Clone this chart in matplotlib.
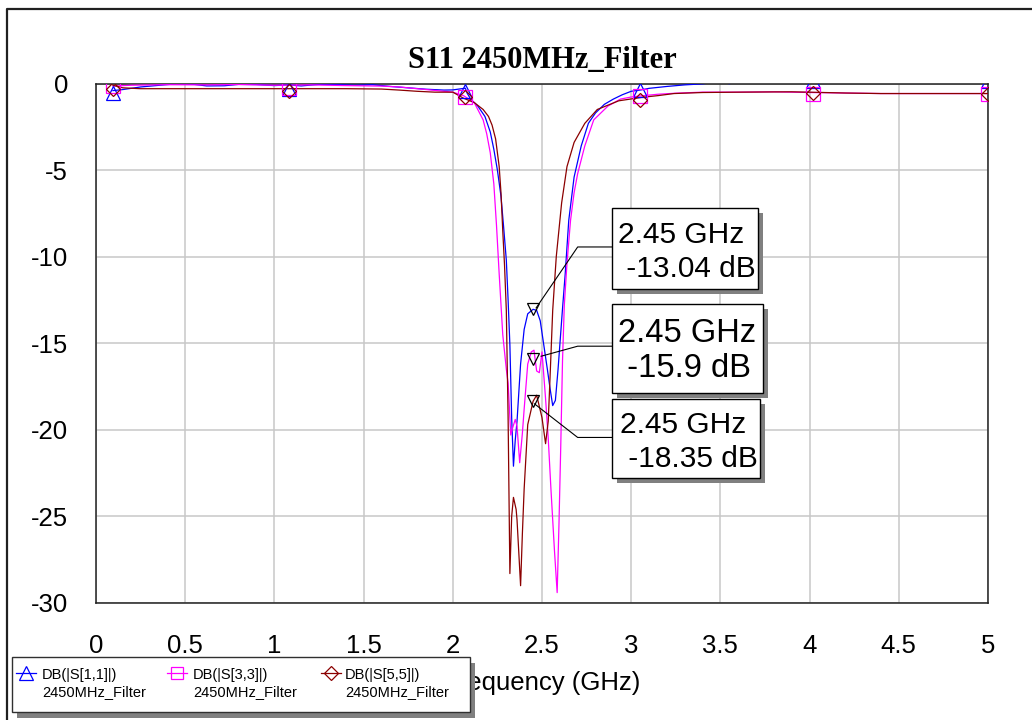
import matplotlib
matplotlib.use("Agg")
import matplotlib.pyplot as plt
from matplotlib.patches import Rectangle
from matplotlib.lines import Line2D
from matplotlib.transforms import Affine2D

# ---------------- data ----------------
s11_f = [0.095, 0.15, 0.25, 0.38, 0.45, 0.55, 0.62, 0.72, 0.80, 0.90, 1.00, 1.08, 1.15, 1.25,
         1.35, 1.45, 1.55, 1.65, 1.75, 1.85, 1.95, 2.00, 2.05, 2.07, 2.08, 2.10, 2.14, 2.18,
         2.21, 2.23, 2.25, 2.27, 2.285, 2.30, 2.31, 2.32, 2.33, 2.34, 2.35, 2.36, 2.38, 2.40,
         2.42, 2.45, 2.47, 2.49, 2.51, 2.53, 2.545, 2.56, 2.575, 2.59, 2.60, 2.615, 2.63,
         2.65, 2.68, 2.72, 2.76, 2.80, 2.85, 2.90, 2.95, 3.00, 3.05, 3.10, 3.20, 3.30, 3.40,
         3.45, 3.50, 3.55, 3.60, 4.00, 4.50, 5.00]
s11_db = [-0.41, -0.35, -0.20, -0.08, -0.02, -0.05, -0.14, -0.13, -0.05, -0.06, -0.12, -0.08,
          -0.14, -0.05, -0.06, -0.10, -0.07, -0.17, -0.25, -0.33, -0.38, -0.37, -0.30, -0.27,
          -0.55, -0.90, -1.3, -1.9, -2.8, -3.8, -5.0, -6.5, -8.3, -10.2, -12.5, -15.1, -19.3,
          -22.1, -20.6, -19.5, -16.2, -14.2, -13.3, -13.04, -13.1, -13.7, -15.1, -16.5, -17.6,
          -18.6, -18.3, -16.5, -15.1, -13.0, -11.0, -7.9, -5.4, -3.6, -2.3, -1.7, -1.2, -0.9,
          -0.65, -0.45, -0.38, -0.28, -0.17, -0.08, -0.02, 0.05, 0.10, -0.01, 0.12, 0.15,
          0.15, 0.15]

s33_f = [0.095, 0.2, 0.4, 0.6, 0.8, 1.0, 1.2, 1.4, 1.6, 1.7, 1.8, 1.9, 2.0, 2.06, 2.12, 2.17,
         2.19, 2.21, 2.23, 2.245, 2.26, 2.28, 2.30, 2.31, 2.325, 2.335, 2.35, 2.36, 2.375,
         2.39, 2.40, 2.42, 2.44, 2.455, 2.47, 2.485, 2.50, 2.52, 2.535, 2.55, 2.57, 2.585,
         2.595, 2.605, 2.615, 2.625, 2.64, 2.66, 2.68, 2.70, 2.74, 2.79, 2.87, 2.94, 3.00,
         3.05, 3.15, 3.25, 3.4, 3.6, 3.8, 4.0, 4.2, 4.4, 4.6, 4.8, 5.0]
s33_db = [-0.15, -0.10, -0.07, -0.08, -0.06, -0.10, -0.08, -0.12, -0.15, -0.20, -0.30, -0.40,
          -0.50, -0.70, -1.1, -2.1, -2.9, -4.0, -5.8, -8.2, -11.0, -14.5, -16.5, -17.3, -20.3,
          -19.9, -19.4, -19.8, -21.9, -20.2, -18.8, -16.2, -15.5, -15.4, -16.6, -16.7, -15.5,
          -18.2, -20.5, -23.4, -27.0, -29.4, -25.5, -21.0, -16.0, -12.8, -10.4, -7.9, -6.3,
          -5.2, -3.6, -2.1, -1.3, -0.9, -0.78, -0.72, -0.62, -0.56, -0.50, -0.50, -0.48,
          -0.52, -0.55, -0.58, -0.58, -0.58, -0.58]

s55_f = [0.095, 0.15, 0.25, 0.5, 0.8, 1.0, 1.2, 1.4, 1.6, 1.7, 1.8, 1.9, 2.0, 2.06, 2.12, 2.17,
         2.20, 2.22, 2.24, 2.26, 2.27, 2.28, 2.29, 2.30, 2.31, 2.32, 2.33, 2.34, 2.355, 2.36,
         2.38, 2.39, 2.40, 2.42, 2.45, 2.47, 2.50, 2.52, 2.535, 2.545, 2.56, 2.58, 2.61, 2.64,
         2.68, 2.74, 2.81, 2.93, 3.06, 3.15, 3.24, 3.4, 3.6, 3.9, 4.0, 4.2, 4.4, 5.0]
s55_db = [-0.10, -0.25, -0.30, -0.30, -0.30, -0.30, -0.30, -0.30, -0.32, -0.38, -0.45, -0.50,
          -0.50, -0.85, -1.1, -1.5, -1.9, -2.4, -3.2, -4.8, -6.3, -8.5, -10.5, -13.1, -19.3,
          -28.3, -25.0, -23.9, -24.6, -25.2, -29.0, -26.0, -23.4, -19.7, -18.35, -18.0, -19.3,
          -20.8, -19.5, -17.0, -13.1, -10.0, -6.9, -4.8, -3.4, -2.3, -1.5, -1.0, -0.8, -0.7,
          -0.58, -0.52, -0.50, -0.48, -0.50, -0.55, -0.58, -0.58]

sym_f = [0.095, 1.08, 2.07, 3.05, 4.02, 5.0]
sym_s11 = [-0.55, -0.30, -0.45, -0.40, 0.15, 0.15]
sym_s33 = [-0.15, -0.25, -0.80, -0.72, -0.60, -0.60]
sym_s55 = [-0.30, -0.45, -0.80, -0.95, -0.55, -0.58]

mk_freq = 2.45
mk_vals = [-13.04, -15.9, -18.35]
mk_text = [("2.45 GHz", " -13.04 dB"), ("2.45 GHz", " -15.9 dB"), ("2.45 GHz", " -18.35 dB")]

series_names = ["DB(|S[1,1]|)", "DB(|S[3,3]|)", "DB(|S[5,5]|)"]
series_sub = "2450MHz_Filter"
title = "S11 2450MHz_Filter"
xlabel = "Frequency (GHz)"
xticks = [0, 0.5, 1, 1.5, 2, 2.5, 3, 3.5, 4, 4.5, 5]
yticks = [0, -5, -10, -15, -20, -25, -30]

# ---------------- figure ----------------
W, H = 1032, 720
fig = plt.figure(figsize=(W / 100, H / 100), dpi=100)
fig.patch.set_facecolor("white")
PX = Affine2D().scale(1.0 / W, -1.0 / H).translate(0, 1) + fig.transFigure
SANS = "Liberation Sans"

ax = fig.add_axes([96 / W, 1 - 603 / H, (988 - 96) / W, (603 - 83.5) / H])
ax.set_xlim(0, 5)
ax.set_ylim(-30, 0)
ax.set_xticks(xticks)
ax.set_xticklabels(["%g" % t for t in xticks])
ax.set_yticks(yticks)
ax.set_yticklabels(["%g" % t for t in yticks])
ax.tick_params(axis="both", length=0, labelsize=18.5)
ax.tick_params(axis="y", pad=20)
ax.tick_params(axis="x", pad=22)
for lab in ax.get_xticklabels() + ax.get_yticklabels():
    lab.set_fontfamily(SANS)
ax.grid(True, color="#c8c8c8", linewidth=1.1)
ax.set_axisbelow(True)
for sp in ax.spines.values():
    sp.set_linewidth(1.1)
    sp.set_color("#202020")

colors = ["#0000ff", "#ff00ff", "#8b0000"]
mks = ["^", "s", "D"]
msz = [10, 9.5, 7.5]
data = [(s11_f, s11_db, sym_s11), (s33_f, s33_db, sym_s33), (s55_f, s55_db, sym_s55)]
for (f, d, sy), c, m, ms in zip(data, colors, mks, msz):
    ax.plot(f, d, color=c, linewidth=0.9, zorder=3)
    ax.plot(sym_f, sy, linestyle="none", marker=m, markersize=ms, markerfacecolor="none",
            markeredgecolor=c, markeredgewidth=0.9, zorder=4)

# marker triangles on curves
ax.plot([mk_freq] * 3, mk_vals, linestyle="none", marker="v", markersize=9,
        markerfacecolor="none", markeredgecolor="black", markeredgewidth=0.9, zorder=6)

# leader lines (data coords) : start, knee, box edge
knee_x = 2.70
box_x = 2.896
knee_y = [-9.44, -15.17, -20.44]
start_off = [(0.017, 0.08), (0.045, 0.15), (0.008, -0.15)]
for v, ky, (dx, dy) in zip(mk_vals, knee_y, start_off):
    ax.plot([mk_freq + dx, knee_x, box_x], [v + dy, ky, ky], color="black",
            linewidth=0.8, zorder=6, clip_on=False)

# annotation boxes (pixel layout)
boxes = [(612, 208, 758, 289), (612, 304, 763, 393), (612, 399, 760, 478)]
fsz = [21.5, 23.5, 21.5]
lines_y = [(243, 277), (342, 377), (433, 467)]
text_x = [617.5, 618, 620]
for (x0, y0, x1, y1), fs, (b1, b2), tx, (l1, l2) in zip(boxes, fsz, lines_y, text_x, mk_text):
    fig.add_artist(Rectangle((x0 + 5, y0 + 5), x1 - x0, y1 - y0, transform=PX,
                             facecolor="#808080", edgecolor="none", zorder=5))
    fig.add_artist(Rectangle((x0, y0), x1 - x0, y1 - y0, transform=PX,
                             facecolor="white", edgecolor="black", linewidth=1.0, zorder=6))
    fig.text(tx, b1, l1, transform=PX, fontsize=fs, family=SANS, va="baseline", ha="left", zorder=7)
    fig.text(tx, b2, l2, transform=PX, fontsize=fs, family=SANS, va="baseline", ha="left", zorder=7)

# title and x label
fig.text(542, 68, title, transform=PX, fontsize=22, family="Liberation Serif",
         fontweight="bold", ha="center", va="baseline")
fig.text(542, 690, xlabel, transform=PX, fontsize=18.5, family=SANS, ha="center", va="baseline")

# outer frame
fig.add_artist(Line2D([7, 7, W + 5], [H + 5, 9, 9], transform=PX, color="#202020",
                      linewidth=1.6, zorder=2))

# legend (manual)
lx0, ly0, lx1, ly1 = 11.5, 657, 470, 712
fig.add_artist(Rectangle((lx0 + 5, ly0 + 6), lx1 - lx0, ly1 - ly0, transform=PX,
                         facecolor="#808080", edgecolor="none", zorder=8))
fig.add_artist(Rectangle((lx0, ly0), lx1 - lx0, ly1 - ly0, transform=PX,
                         facecolor="white", edgecolor="#303030", linewidth=1.0, zorder=9))
sym_cx = [25.5, 176.5, 331]
txt_x = [42, 193, 345]
for cx, tx, c, m, ms, name in zip(sym_cx, txt_x, colors, mks, msz, series_names):
    fig.add_artist(Line2D([cx - 10, cx + 10], [673, 673], transform=PX, color=c,
                          linewidth=0.9, zorder=10))
    fig.add_artist(Line2D([cx], [673], transform=PX, color=c, marker=m, markersize=ms - 0.5,
                          markerfacecolor="none", markeredgecolor=c, markeredgewidth=0.9,
                          linestyle="none", zorder=10))
    fig.text(tx, 675, name, transform=PX, fontsize=10.5, family=SANS, va="center", ha="left", zorder=11)
    fig.text(tx, 692, series_sub, transform=PX, fontsize=10.5, family=SANS, va="center", ha="left", zorder=11)

fig.savefig("out.png", dpi=100, facecolor="white")
